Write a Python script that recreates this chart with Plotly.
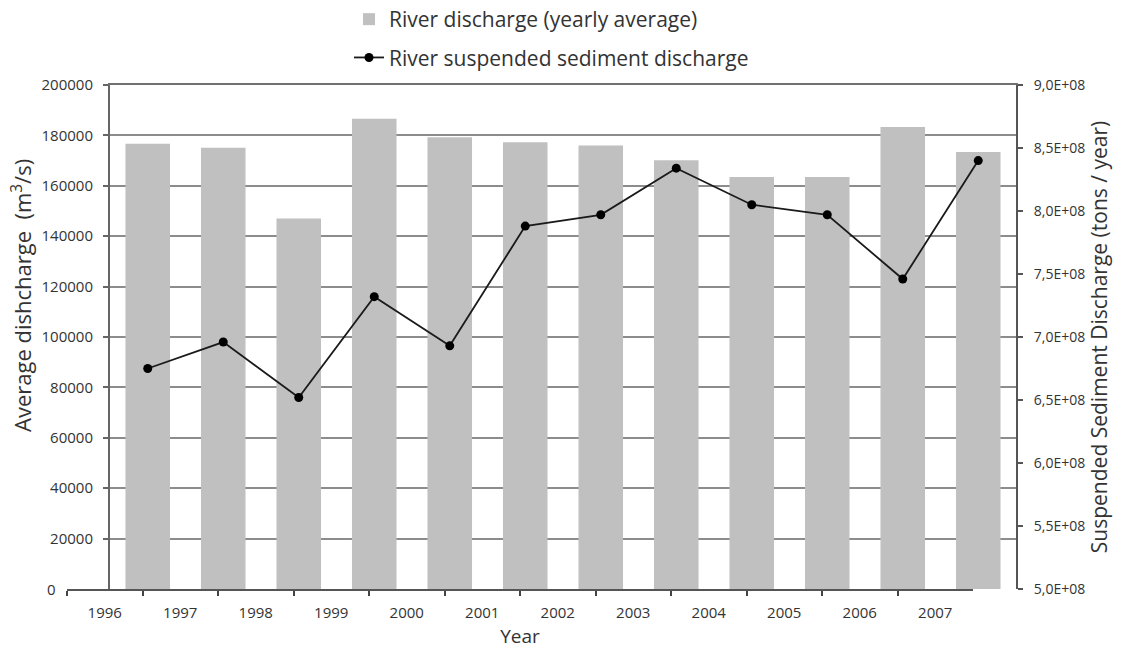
import plotly.graph_objects as go

years = ["1996", "1997", "1998", "1999", "2000", "2001", "2002", "2003", "2004", "2005", "2006", "2007"]
river_discharge = [176700, 175100, 147000, 186600, 179300, 177300, 176000, 170100, 163500, 163500, 183300, 173400]
sediment_discharge = [6.75e8, 6.96e8, 6.52e8, 7.32e8, 6.93e8, 7.88e8, 7.97e8, 8.34e8, 8.05e8, 7.97e8, 7.46e8, 8.40e8]
left_tickvals = [20000, 40000, 60000, 80000, 100000, 120000, 140000, 160000, 180000, 200000]
right_tickvals = [5.0e8, 5.5e8, 6.0e8, 6.5e8, 7.0e8, 7.5e8, 8.0e8, 8.5e8, 9.0e8]
right_ticktext = ["5,0E+08", "5,5E+08", "6,0E+08", "6,5E+08", "7,0E+08", "7,5E+08", "8,0E+08", "8,5E+08", "9,0E+08"]

W, H = 1137, 654
FONT = "Open Sans"
AX = "#666666"
TXT = "#333333"

fig = go.Figure()
fig.add_trace(go.Bar(
    x=years, y=river_discharge, name="River discharge (yearly average)",
    marker=dict(color="#c0c0c0", line=dict(width=0)),
    xaxis="x", yaxis="y", legendgroup="a",
))
fig.add_trace(go.Scatter(
    x=years, y=sediment_discharge, name="River suspended sediment discharge",
    mode="lines+markers", line=dict(color="#1a1a1a", width=1.8),
    marker=dict(color="#000000", size=9),
    xaxis="x", yaxis="y2", legendgroup="b",
))
# carrier for the year-label axis (shifted category axis)
fig.add_trace(go.Scatter(
    x=years, y=river_discharge, mode="markers", marker=dict(opacity=0),
    xaxis="x2", yaxis="y3", showlegend=False, hoverinfo="skip",
))

ydom = [1 - 589 / H, 1 - 85 / H]
fig.update_layout(
    width=W, height=H, autosize=False,
    margin=dict(l=0, r=0, t=0, b=0, autoexpand=False),
    paper_bgcolor="white", plot_bgcolor="rgba(0,0,0,0)",
    font=dict(family=FONT, color=TXT),
    bargap=0.41,
    xaxis=dict(
        domain=[110 / W, 1016 / W], anchor="y", side="top", automargin=False,
        type="category", categoryarray=years, range=[-0.5, 11.5],
        showticklabels=False, ticks="", showgrid=False,
        showline=True, linecolor="#707070", linewidth=2,
    ),
    xaxis2=dict(
        domain=[67 / W, 973 / W], anchor="y3", automargin=False,
        type="category", categoryarray=years, range=[-0.5, 11.5],
        tickson="boundaries", ticks="outside", ticklen=5, tickwidth=2, tickcolor="#444444",
        showgrid=False, showline=True, linecolor="#555555", linewidth=2,
        tickfont=dict(size=15, color=TXT), ticklabelstandoff=9,
        title=dict(text="Year", font=dict(size=19, color=TXT), standoff=9),
    ),
    yaxis=dict(
        domain=ydom, anchor="x", automargin=False,
        range=[0, 200000], tickvals=left_tickvals, tickformat="d",
        showgrid=True, gridcolor="#8c8c8c", gridwidth=2, zeroline=False,
        showline=True, linecolor=AX, linewidth=2,
        ticks="outside", ticklen=5, tickwidth=2, tickcolor=AX,
        tickfont=dict(size=15, color=TXT), ticklabelstandoff=7,
    ),
    yaxis2=dict(
        overlaying="y", side="right", anchor="x", automargin=False, range=[5e8, 9e8],
        tickvals=right_tickvals, ticktext=right_ticktext,
        showgrid=False, zeroline=False,
        showline=True, linecolor="#555555", linewidth=2,
        ticks="outside", ticklen=5, tickwidth=2, tickcolor="#555555",
        tickfont=dict(size=14, color=TXT), ticklabelstandoff=8,
        title=dict(text="Suspended Sediment Discharge (tons / year)",
                   font=dict(size=21, color=TXT), standoff=8),
    ),
    yaxis3=dict(
        domain=ydom, anchor="x2", automargin=False, range=[0, 200000],
        visible=False, showgrid=False, zeroline=False, fixedrange=True,
    ),
    legend=dict(
        x=349 / W, y=1 + 1 / H, xanchor="left", yanchor="top",
        traceorder="grouped", tracegroupgap=8,
        font=dict(size=21, color=TXT), bgcolor="rgba(0,0,0,0)",
    ),
    annotations=[
        dict(
            text="Average dishcharge  (m<sup>3</sup>/s)", textangle=-90,
            xref="paper", yref="paper", x=21 / W, y=1 - 296 / H,
            xanchor="center", yanchor="middle", showarrow=False,
            font=dict(size=22, color=TXT),
        ),
        dict(
            text="0", xref="paper", yref="y", x=58 / W, y=0,
            xanchor="right", yanchor="middle", showarrow=False,
            font=dict(size=15, color=TXT),
        ),
    ],
)

fig.write_html("out.html", config={"displayModeBar": False},
               post_script="document.body.style.margin='0';document.body.style.overflow='hidden';")
